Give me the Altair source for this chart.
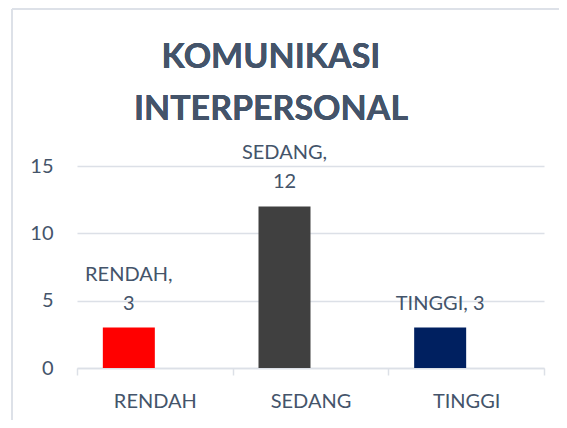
import altair as alt
import pandas as pd

categories = ["RENDAH", "SEDANG", "TINGGI"]
values = [3, 12, 3]
bar_colors = ["#FF0000", "#404040", "#002060"]
label_first_line = ["RENDAH,", "SEDANG,", ""]
label_last_line = ["3", "12", "TINGGI, 3"]
y_ticks = [0, 5, 10, 15]
title_lines = ["KOMUNIKASI", "INTERPERSONAL"]

df = pd.DataFrame({
    "kategori": categories,
    "nilai": values,
    "warna": bar_colors,
    "baris1": label_first_line,
    "baris2": label_last_line,
})

TEXT = "#44546A"
GRID = "#DCE0E7"
FONT = "Lato"

x_enc = alt.X(
    "kategori:N",
    sort=categories,
    scale=alt.Scale(paddingInner=0, paddingOuter=0),
    axis=alt.Axis(
        title=None,
        labelAngle=0,
        labelFont=FONT,
        labelFontSize=20,
        labelColor=TEXT,
        labelPadding=16,
        tickBand="extent",
        tickSize=7,
        tickColor=GRID,
        tickWidth=1.5,
        domainColor=GRID,
        domainWidth=1.5,
        grid=False,
    ),
)
y_enc = alt.Y(
    "nilai:Q",
    scale=alt.Scale(domain=[0, 15], nice=False),
    axis=alt.Axis(
        title=None,
        values=y_ticks,
        labelFont=FONT,
        labelFontSize=20,
        labelColor=TEXT,
        labelPadding=24,
        ticks=False,
        domain=False,
        gridColor=GRID,
        gridWidth=1.5,
    ),
)

bars = alt.Chart(df).mark_bar(size=52, xOffset=-26).encode(
    x=x_enc,
    y=y_enc,
    color=alt.Color("warna:N", scale=None),
)

label_style = dict(font=FONT, fontSize=20, color=TEXT, align="center",
                   baseline="alphabetic", dx=-26)

labels_last = alt.Chart(df).mark_text(dy=-18, **label_style).encode(
    x=alt.X("kategori:N", sort=categories),
    y=alt.Y("nilai:Q"),
    text="baris2:N",
)
labels_first = alt.Chart(df).mark_text(dy=-47, **label_style).encode(
    x=alt.X("kategori:N", sort=categories),
    y=alt.Y("nilai:Q"),
    text="baris1:N",
)

title = alt.Chart(df).mark_text(
    text=title_lines,
    font=FONT,
    fontSize=34,
    fontWeight="bold",
    color=TEXT,
    align="center",
    baseline="alphabetic",
    lineHeight=52,
).encode(x=alt.value(194), y=alt.value(-98.5))

frame_left = alt.Chart(df).mark_rule(color=GRID, strokeWidth=1.5).encode(
    x=alt.value(-65), y=alt.value(-157), y2=alt.value(270)
)
frame_top = alt.Chart(df).mark_rule(color=GRID, strokeWidth=1.5).encode(
    x=alt.value(-65), x2=alt.value(500), y=alt.value(-157)
)

chart = alt.layer(frame_left, frame_top, bars, labels_last, labels_first, title).properties(
    width=467,
    height=202,
    padding={"left": 69, "top": 158, "right": 15, "bottom": 52},
    autosize=alt.AutoSizeParams(type="none"),
    background="white",
).configure_view(stroke=None)

chart.save("out.html", embed_options={"renderer": "svg", "actions": False})
